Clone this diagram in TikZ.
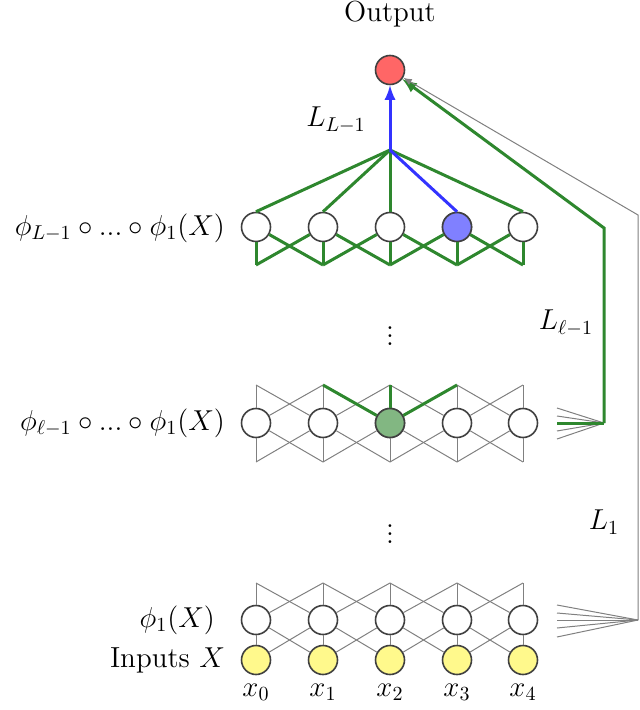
\documentclass[tikz,border=0pt]{standalone}
\begin{document}
\begin{tikzpicture}[x=0.5pt,y=-0.5pt,
  every node/.append style={font=\fontsize{14.5}{17}\selectfont},
  neu/.style={circle,draw=black!75,line width=0.8pt,minimum size=14.5pt,inner sep=0pt,fill=white},
  gr/.style={draw=black!50,line width=0.5pt},
  bl/.style={draw=blue!80,line width=1.5pt},
  lab/.style={anchor=east}]
\useasboundingbox (0,0) rectangle (640,710);
\definecolor{gc}{RGB}{46,135,46}
\tikzset{gn/.style={draw=gc,line width=1.5pt}}
\foreach \i/\x in {0/256,1/323,2/390,3/457,4/523}{
  \coordinate (tb\i) at (\x,265);
  \coordinate (mt\i) at (\x,385);
  \coordinate (mb\i) at (\x,462);
  \coordinate (pt\i) at (\x,583);
}
% nodes
\node[neu,fill=red!60] (out) at (390,70) {};
\coordinate (j) at (390,150);
\foreach \i/\x in {0/256,1/323,2/390,3/457,4/523}{
  \node[neu] (t\i) at (\x,227) {};
  \node[neu] (m\i) at (\x,423) {};
  \node[neu] (p\i) at (\x,620) {};
  \node[neu,fill=yellow!45] (in\i) at (\x,660) {};
}
\node[neu,fill=blue!50] (t3) at (457,227) {};
\node[neu,fill=gc!60] (m2) at (390,423) {};
% connections
\foreach \i in {0,...,4}{
  \foreach \k in {-1,0,1}{
    \pgfmathtruncatemacro{\j}{\i+\k}
    \ifnum\j>-1 \ifnum\j<5
      \draw[gr] (mt\i) -- (m\j);
      \draw[gr] (mb\i) -- (m\j);
      \draw[gr] (pt\i) -- (p\j);
      \draw[gr] (in\i) -- (p\j);
      \draw[gn] (tb\i) -- (t\j);
    \fi\fi
  }
}
\foreach \i in {1,2,3}{ \draw[gn] (mt\i) -- (m2); }
\foreach \i in {0,1,2,4}{ \draw[gn] (j) -- (t\i.north); }
\draw[bl] (j) -- (t3.north);
\draw[bl,-latex] (j) -- (out);
% fans
\coordinate (ma) at (604,423);
\coordinate (pa) at (638,620);
\foreach \y in {408,416,431,439}{ \coordinate (f) at (557,\y); \draw[gr] (f) -- (ma); }
\coordinate (fm) at (557,423);
\draw[gn] (fm) -- (ma);
\foreach \y in {605,613,620,628,637}{ \coordinate (f) at (557,\y); \draw[gr] (f) -- (pa); }
\coordinate (gc1) at (604,228);
\coordinate (gc2) at (638,215);
\draw[gn,-latex] (ma) -- (gc1) -- (out);
\draw[gr,-latex] (pa) -- (gc2) -- (out);
% labels
\node (lo) at (390,14) {Output};
\node (l1) at (336,120) {$L_{L-1}$};
\node (l2) at (566,323) {$L_{\ell-1}$};
\node (l3) at (604,522) {$L_1$};
\node[lab] (a1) at (232,228) {$\phi_{L-1}\circ...\circ\phi_1(X)$};
\node[lab] (a2) at (232,423) {$\phi_{\ell-1}\circ...\circ\phi_1(X)$};
\node[lab] (a3) at (222,620) {$\phi_1(X)$};
\node[lab] (a4) at (232,660) {Inputs $X$};
\foreach \i/\x in {0/256,1/323,2/390,3/457,4/523}{ \node (x\i) at (\x,692) {$x_\i$}; }
\node (d1) at (390,330) {$\vdots$};
\node (d2) at (390,528) {$\vdots$};
\end{tikzpicture}
\end{document}
